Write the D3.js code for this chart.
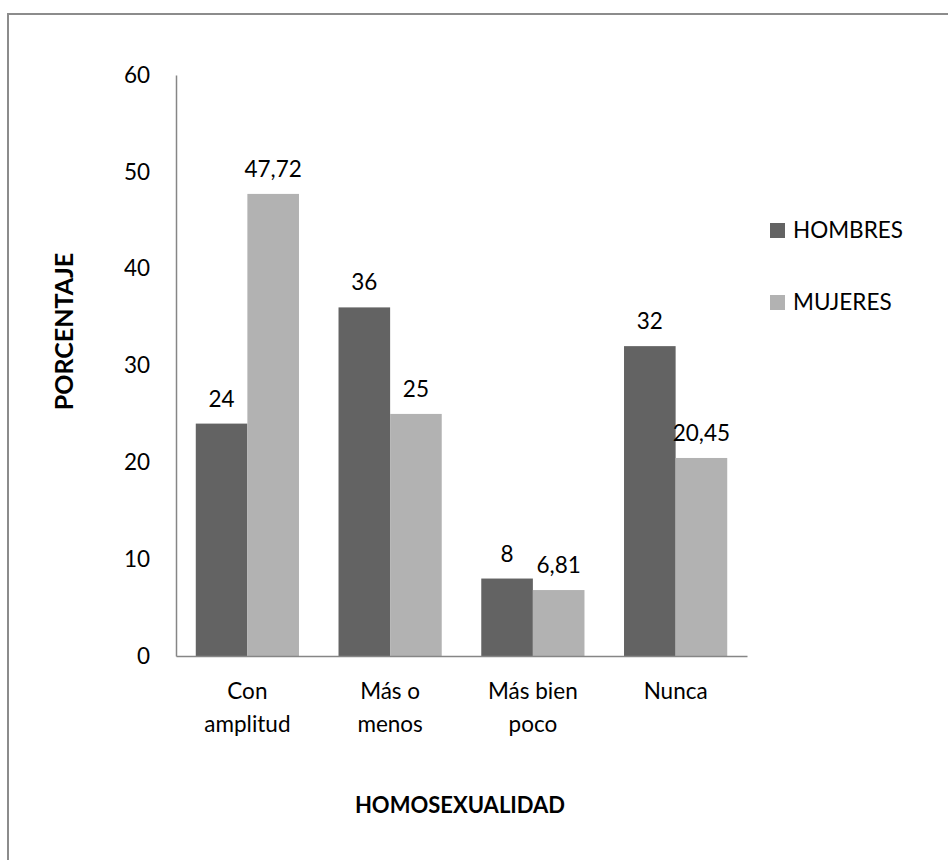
<!DOCTYPE html>
<html>
<head>
<meta charset="utf-8">
<script src="https://cdn.jsdelivr.net/npm/d3@7"></script>
<style>
html,body{margin:0;padding:0;background:#fff;}
svg{display:block;}
text{font-family:Lato, "Open Sans", sans-serif;fill:#000;}
</style>
</head>
<body>
<svg id="chart" width="948" height="860"></svg>
<script>
const categories = [["Con","amplitud"],["Más o","menos"],["Más bien","poco"],["Nunca"]];
const seriesNames = ["HOMBRES","MUJERES"];
const hombres = [24, 36, 8, 32];
const mujeres = [47.72, 25, 6.81, 20.45];
const yTicks = [0,10,20,30,40,50,60];
const colors = ["#636363","#b2b2b2"];

const svg = d3.select("#chart");
const plot = {left:176, right:747, top:75, bottom:656};

// outer border (right & bottom fall outside the picture)
svg.append("rect").attr("x",8).attr("y",14).attr("width",1000).attr("height",1000)
  .attr("fill","none").attr("stroke","#8c8c8c").attr("stroke-width",2);

const catKeys = categories.map(c => c.join(" "));
const x0 = d3.scaleBand().domain(catKeys).range([plot.left, plot.right])
  .paddingInner(0.277).paddingOuter(0.1385);
const x1 = d3.scaleBand().domain(seriesNames).range([0, x0.bandwidth()]);
const y = d3.scaleLinear().domain([0,60]).range([plot.bottom, plot.top]);

const series = [hombres, mujeres];
const fmt = v => String(v).replace(".", ",");

// bars
seriesNames.forEach((s, si) => {
  svg.append("g").selectAll("rect").data(series[si]).join("rect")
    .attr("x", (d,i) => x0(catKeys[i]) + x1(s))
    .attr("y", d => y(d))
    .attr("width", x1.bandwidth())
    .attr("height", d => y(0) - y(d))
    .attr("fill", colors[si]);
  svg.append("g").selectAll("text").data(series[si]).join("text")
    .attr("x", (d,i) => x0(catKeys[i]) + x1(s) + x1.bandwidth()/2)
    .attr("y", d => y(d) - 17)
    .attr("text-anchor","middle")
    .style("font-size","22.5px")
    .text(d => fmt(d));
});

// y axis
const yAxis = d3.axisLeft(y).tickValues(yTicks).tickSize(0).tickPadding(26);
const gy = svg.append("g").attr("transform",`translate(${plot.left},0)`).call(yAxis);
gy.select(".domain").attr("stroke","#868686").attr("stroke-width",1.5);
gy.selectAll("text").style("font-size","22.5px").attr("fill","#000")
  .style("font-family","Lato, 'Open Sans', sans-serif");

// x axis
const xAxis = d3.axisBottom(x0).tickSize(0).tickFormat("");
const gx = svg.append("g").attr("transform",`translate(0,${plot.bottom})`).call(xAxis);
gx.select(".domain").attr("stroke","#868686").attr("stroke-width",1.5);
gx.selectAll(".tick").each(function(d, i){
  const t = d3.select(this).append("text").attr("text-anchor","middle")
    .style("font-size","22.5px").attr("fill","#000")
    .style("font-family","Lato, 'Open Sans', sans-serif");
  categories[i].forEach((line, li) => {
    t.append("tspan").attr("x",0).attr("y", 43 + li*32.5).text(line);
  });
});

// axis titles
svg.append("text").attr("transform","translate(73,331.5) rotate(-90)")
  .attr("text-anchor","middle").style("font-size","25px").style("font-weight","bold")
  .text("PORCENTAJE");
svg.append("text").attr("x",460).attr("y",813)
  .attr("text-anchor","middle").style("font-size","22px").style("font-weight","bold")
  .text("HOMOSEXUALIDAD");

// legend
const lg = svg.append("g");
seriesNames.forEach((s, i) => {
  const yy = 223 + i*72;
  lg.append("rect").attr("x",770).attr("y",yy).attr("width",15).attr("height",15).attr("fill",colors[i]);
  lg.append("text").attr("x",793).attr("y",yy+15).style("font-size","22.5px").text(s);
});
</script>
</body>
</html>
